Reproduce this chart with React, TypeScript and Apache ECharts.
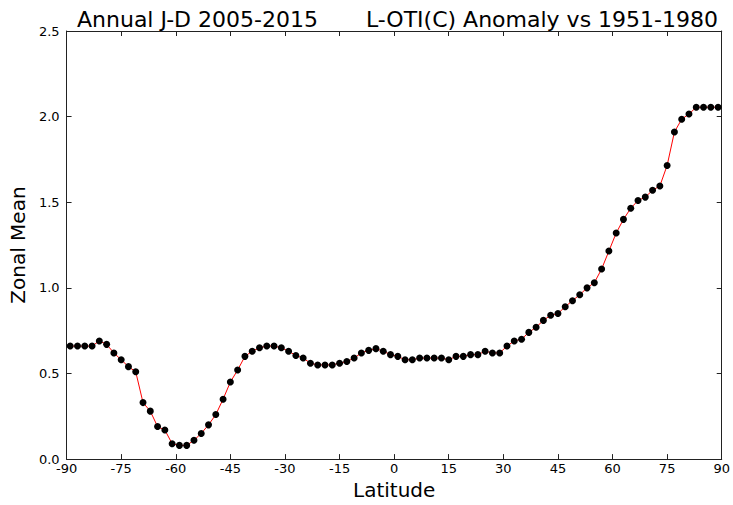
import React, { useEffect, useRef } from "react";
import * as echarts from "echarts";

const latitudes = [
  -89, -87, -85, -83, -81, -79, -77, -75, -73, -71,
  -69, -67, -65, -63, -61, -59, -57, -55, -53, -51,
  -49, -47, -45, -43, -41, -39, -37, -35, -33, -31,
  -29, -27, -25, -23, -21, -19, -17, -15, -13, -11,
  -9, -7, -5, -3, -1, 1, 3, 5, 7, 9,
  11, 13, 15, 17, 19, 21, 23, 25, 27, 29,
  31, 33, 35, 37, 39, 41, 43, 45, 47, 49,
  51, 53, 55, 57, 59, 61, 63, 65, 67, 69,
  71, 73, 75, 77, 79, 81, 83, 85, 87, 89,
];

const zonalMean = [
  0.66, 0.66, 0.66, 0.66, 0.69, 0.67, 0.62, 0.58, 0.54, 0.51,
  0.33, 0.28, 0.19, 0.17, 0.09, 0.08, 0.08, 0.11, 0.15, 0.2,
  0.26, 0.35, 0.45, 0.52, 0.6, 0.63, 0.65, 0.66, 0.66, 0.65,
  0.63, 0.605, 0.59, 0.56, 0.55, 0.55, 0.55, 0.56, 0.57, 0.59,
  0.62, 0.635, 0.645, 0.63, 0.61, 0.6, 0.58, 0.58, 0.59, 0.59,
  0.59, 0.59, 0.58, 0.6, 0.6, 0.61, 0.61, 0.63, 0.62, 0.62,
  0.66, 0.69, 0.7, 0.74, 0.77, 0.81, 0.84, 0.85, 0.89, 0.925,
  0.96, 1.0, 1.03, 1.11, 1.215, 1.32, 1.4, 1.465, 1.51, 1.53,
  1.57, 1.595, 1.715, 1.91, 1.985, 2.015, 2.055, 2.055, 2.055, 2.055,
];

const titleLeft = "Annual J-D 2005-2015";
const titleRight = "L-OTI(C) Anomaly vs 1951-1980";
const xName = "Latitude";
const yName = "Zonal Mean";

const FONT = "DejaVu Sans";

export default function App() {
  const ref = useRef<HTMLDivElement>(null);

  useEffect(() => {
    document.body.style.margin = "0";
    if (!ref.current) return;
    const chart = echarts.init(ref.current, undefined, { renderer: "svg" });
    const axisLine = { show: true, onZero: false, lineStyle: { color: "#222", width: 1 } };
    const tick = { show: true, inside: true, length: 5, lineStyle: { color: "#222", width: 1 } };
    chart.setOption({
      animation: false,
      backgroundColor: "#fff",
      title: [
        {
          text: titleLeft,
          left: 72,
          top: 3,
          textStyle: { fontFamily: FONT, fontSize: 22, fontWeight: "normal", color: "#000" },
        },
        {
          text: titleRight,
          right: 10,
          top: 3,
          textStyle: { fontFamily: FONT, fontSize: 22, fontWeight: "normal", color: "#000" },
        },
      ],
      grid: { left: 64, right: 9, top: 31, bottom: 42 },
      xAxis: [
        {
          type: "value",
          min: -90,
          max: 90,
          interval: 15,
          axisLine,
          axisTick: tick,
          splitLine: { show: false },
          axisLabel: { fontFamily: FONT, fontSize: 13, color: "#000", margin: 3 },
          name: xName,
          nameLocation: "middle",
          nameGap: 18,
          nameTextStyle: { fontFamily: FONT, fontSize: 20, color: "#000" },
        },
        {
          type: "value",
          position: "top",
          min: -90,
          max: 90,
          interval: 15,
          axisLine,
          axisTick: tick,
          splitLine: { show: false },
          axisLabel: { show: false },
        },
      ],
      yAxis: [
        {
          type: "value",
          min: 0,
          max: 2.5,
          interval: 0.5,
          axisLine,
          axisTick: tick,
          splitLine: { show: false },
          axisLabel: {
            fontFamily: FONT,
            fontSize: 13,
            color: "#000",
            margin: 7,
            formatter: (v: number) => v.toFixed(1),
          },
          name: yName,
          nameLocation: "middle",
          nameGap: 26,
          nameTextStyle: { fontFamily: FONT, fontSize: 20, color: "#000" },
        },
        {
          type: "value",
          position: "right",
          min: 0,
          max: 2.5,
          interval: 0.5,
          axisLine,
          axisTick: tick,
          splitLine: { show: false },
          axisLabel: { show: false },
        },
      ],
      series: [
        {
          type: "line",
          data: latitudes.map((lat, i) => [lat, zonalMean[i]]),
          symbol: "circle",
          symbolSize: 7,
          showAllSymbol: true,
          lineStyle: { color: "#ff0000", width: 1 },
          itemStyle: { color: "#000", borderColor: "#000", borderWidth: 0 },
          emphasis: { disabled: true },
        },
      ],
    });
    return () => chart.dispose();
  }, []);

  return <div ref={ref} style={{ width: 733, height: 505 }} />;
}
